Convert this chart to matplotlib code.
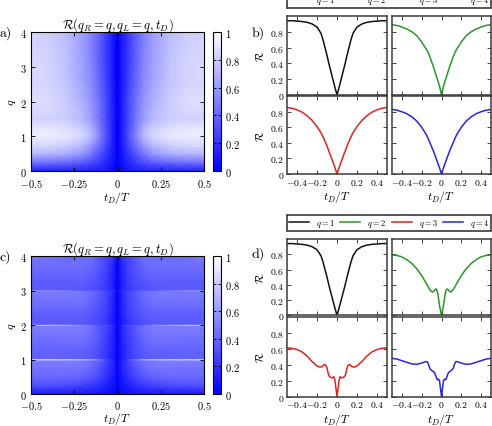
import numpy as np
import matplotlib
matplotlib.use("Agg")
import matplotlib.pyplot as plt
from matplotlib.colors import LinearSegmentedColormap
from matplotlib.lines import Line2D

plt.rcParams['mathtext.fontset'] = 'cm'
plt.rcParams['font.family'] = 'serif'
plt.rcParams['font.serif'] = ['cmr10', 'DejaVu Serif']
plt.rcParams['axes.unicode_minus'] = False

W, H = 492, 427

# ---------------- heatmap data (half in t, mirrored) ----------------
hm_t = [0, 0.01, 0.03, 0.06, 0.1, 0.15, 0.2, 0.3, 0.4, 0.5]

a_q = [0, 0.25, 0.5, 0.75, 1.0, 1.15, 1.5, 1.75, 2.0, 2.5, 3.0, 3.5, 4.0]
a_vals = [
    [0, 0.02, 0.05, 0.08, 0.10, 0.11, 0.12, 0.12, 0.12, 0.12],
    [0, 0.03, 0.08, 0.14, 0.22, 0.30, 0.36, 0.42, 0.45, 0.45],
    [0, 0.04, 0.11, 0.20, 0.32, 0.46, 0.58, 0.68, 0.71, 0.72],
    [0, 0.04, 0.13, 0.25, 0.42, 0.60, 0.72, 0.82, 0.85, 0.85],
    [0, 0.04, 0.14, 0.29, 0.49, 0.72, 0.83, 0.90, 0.92, 0.92],
    [0, 0.04, 0.14, 0.29, 0.48, 0.71, 0.82, 0.89, 0.92, 0.92],
    [0, 0.05, 0.14, 0.27, 0.44, 0.60, 0.71, 0.80, 0.82, 0.82],
    [0, 0.05, 0.14, 0.26, 0.43, 0.60, 0.70, 0.81, 0.84, 0.85],
    [0, 0.05, 0.14, 0.27, 0.42, 0.58, 0.68, 0.80, 0.86, 0.88],
    [0, 0.04, 0.12, 0.24, 0.39, 0.54, 0.64, 0.77, 0.83, 0.84],
    [0, 0.04, 0.12, 0.22, 0.37, 0.52, 0.62, 0.76, 0.83, 0.855],
    [0, 0.04, 0.12, 0.22, 0.36, 0.51, 0.615, 0.75, 0.815, 0.84],
    [0, 0.04, 0.12, 0.22, 0.36, 0.50, 0.61, 0.745, 0.805, 0.83],
]

c_q = [0, 0.25, 0.5, 0.75, 0.97, 1.0, 1.03, 1.25, 1.5, 1.75, 1.97, 2.0, 2.03,
       2.25, 2.5, 2.75, 2.97, 3.0, 3.03, 3.25, 3.5, 3.75, 4.0]
c_vals = [
    [0, 0.02, 0.04, 0.06, 0.08, 0.09, 0.10, 0.10, 0.10, 0.10],
    [0, 0.04, 0.08, 0.12, 0.17, 0.22, 0.26, 0.30, 0.32, 0.32],
    [0, 0.06, 0.12, 0.18, 0.27, 0.34, 0.39, 0.41, 0.41, 0.41],
    [0, 0.07, 0.15, 0.22, 0.32, 0.40, 0.45, 0.46, 0.45, 0.45],
    [0, 0.08, 0.17, 0.25, 0.36, 0.44, 0.48, 0.49, 0.49, 0.49],
    [0, 0.04, 0.14, 0.29, 0.49, 0.74, 0.85, 0.915, 0.935, 0.94],
    [0, 0.06, 0.12, 0.20, 0.28, 0.34, 0.37, 0.38, 0.38, 0.38],
    [0, 0.06, 0.13, 0.20, 0.29, 0.35, 0.38, 0.38, 0.38, 0.38],
    [0, 0.07, 0.15, 0.22, 0.31, 0.39, 0.43, 0.43, 0.42, 0.42],
    [0, 0.07, 0.16, 0.24, 0.33, 0.42, 0.46, 0.47, 0.46, 0.46],
    [0, 0.07, 0.17, 0.26, 0.34, 0.44, 0.49, 0.49, 0.49, 0.49],
    [0, 0.06, 0.20, 0.34, 0.31, 0.41, 0.52, 0.68, 0.765, 0.79],
    [0, 0.06, 0.12, 0.20, 0.27, 0.31, 0.34, 0.35, 0.35, 0.35],
    [0, 0.06, 0.13, 0.22, 0.28, 0.33, 0.36, 0.36, 0.36, 0.36],
    [0, 0.07, 0.15, 0.24, 0.31, 0.37, 0.41, 0.41, 0.41, 0.41],
    [0, 0.07, 0.16, 0.26, 0.33, 0.40, 0.45, 0.46, 0.45, 0.45],
    [0, 0.07, 0.17, 0.26, 0.34, 0.42, 0.47, 0.48, 0.48, 0.48],
    [0, 0.10, 0.25, 0.24, 0.36, 0.375, 0.385, 0.51, 0.59, 0.61],
    [0, 0.06, 0.13, 0.20, 0.27, 0.31, 0.34, 0.35, 0.35, 0.35],
    [0, 0.06, 0.14, 0.22, 0.29, 0.33, 0.36, 0.36, 0.36, 0.36],
    [0, 0.07, 0.15, 0.24, 0.31, 0.37, 0.40, 0.40, 0.40, 0.40],
    [0, 0.07, 0.16, 0.26, 0.33, 0.40, 0.43, 0.43, 0.43, 0.43],
    [0, 0.10, 0.22, 0.27, 0.33, 0.44, 0.42, 0.41, 0.45, 0.48],
]

# ---------------- line-cut data (t >= 0, symmetric) ----------------
b_t = [0, 0.02, 0.04, 0.06, 0.08, 0.1, 0.12, 0.14, 0.16, 0.2, 0.25, 0.3, 0.35, 0.4, 0.45, 0.5]
b_q1 = [0, 0.09, 0.19, 0.29, 0.39, 0.5, 0.6, 0.7, 0.78, 0.86, 0.9, 0.92, 0.93, 0.935, 0.94, 0.94]
b_q2 = [0, 0.11, 0.19, 0.27, 0.35, 0.42, 0.49, 0.55, 0.59, 0.67, 0.75, 0.8, 0.835, 0.86, 0.88, 0.89]
b_q3 = [0, 0.08, 0.15, 0.22, 0.29, 0.36, 0.42, 0.48, 0.53, 0.61, 0.69, 0.75, 0.795, 0.825, 0.845, 0.855]
b_q4 = [0, 0.08, 0.15, 0.22, 0.29, 0.35, 0.41, 0.47, 0.52, 0.6, 0.68, 0.735, 0.775, 0.8, 0.82, 0.83]

d_t2 = [0, 0.01, 0.02, 0.03, 0.04, 0.05, 0.06, 0.07, 0.08, 0.09, 0.1, 0.12, 0.15, 0.2,
        0.25, 0.3, 0.35, 0.4, 0.45, 0.5]
d_q2 = [0, 0.06, 0.13, 0.22, 0.3, 0.34, 0.345, 0.33, 0.315, 0.305, 0.31, 0.34, 0.41, 0.52,
        0.61, 0.68, 0.73, 0.765, 0.785, 0.79]
d_t3 = [0, 0.01, 0.02, 0.03, 0.04, 0.05, 0.06, 0.07, 0.08, 0.09, 0.1, 0.11, 0.12, 0.13,
        0.15, 0.17, 0.2, 0.25, 0.3, 0.35, 0.4, 0.45, 0.5]
d_q3 = [0, 0.1, 0.2, 0.25, 0.24, 0.235, 0.24, 0.25, 0.26, 0.3, 0.36, 0.39, 0.4, 0.4,
        0.375, 0.37, 0.385, 0.44, 0.51, 0.56, 0.59, 0.605, 0.61]
d_t4 = [0, 0.01, 0.02, 0.03, 0.04, 0.05, 0.06, 0.07, 0.08, 0.09, 0.1, 0.11, 0.12, 0.13,
        0.14, 0.15, 0.17, 0.2, 0.25, 0.3, 0.35, 0.4, 0.45, 0.5]
d_q4 = [0, 0.1, 0.2, 0.22, 0.21, 0.23, 0.27, 0.3, 0.31, 0.32, 0.33, 0.34, 0.36, 0.4,
        0.43, 0.44, 0.435, 0.42, 0.405, 0.41, 0.43, 0.45, 0.47, 0.48]

legend_labels = ['$q=1$', '$q=2$', '$q=3$', '$q=4$']
line_colors = ['#111111', '#2a962a', '#e32222', '#2626e0']


def mirror_t(t):
    t = np.asarray(t, float)
    return np.concatenate([-t[::-1][:-1], t])


def mirror_v(v):
    v = np.asarray(v, float)
    if v.ndim == 1:
        return np.concatenate([v[::-1][:-1], v])
    return np.concatenate([v[:, ::-1][:, :-1], v], axis=1)


def px(x0, y0, x1, y1):
    return [x0 / W, 1 - y1 / H, (x1 - x0) / W, (y1 - y0) / H]


cmap = LinearSegmentedColormap.from_list('bw', [(0, 0, 1), (1, 1, 1)])

fig = plt.figure(figsize=(W / 100, H / 100), dpi=100)


def heat(rect, cbrect, qs, vals, label, ypanel, xpad, lpad):
    ax = fig.add_axes(px(*rect))
    T = mirror_t(hm_t)
    V = mirror_v(vals)
    X, Y = np.meshgrid(T, np.asarray(qs, float))
    m = ax.pcolormesh(X, Y, V, cmap=cmap, vmin=0, vmax=1, shading='gouraud', rasterized=True)
    ax.set_xlim(-0.5, 0.5)
    ax.set_ylim(0, 4)
    ax.set_xticks([-0.5, -0.25, 0, 0.25, 0.5])
    ax.set_xticklabels(['$-0.5$', '$-0.25$', '$0$', '$0.25$', '$0.5$'], fontsize=7.5)
    ax.set_yticks([0, 1, 2, 3, 4])
    ax.set_yticklabels(['$0$', '$1$', '$2$', '$3$', '$4$'], fontsize=7.5)
    ax.tick_params(direction='in', length=3, width=0.6, top=True, right=True, pad=3.2)
    ax.tick_params(axis='x', pad=xpad)
    ax.set_xlabel('$t_D/T$', fontsize=8.5, labelpad=lpad)
    ax.set_ylabel('$q$', fontsize=8.5, labelpad=1.5)
    ax.set_title(r'$\mathcal{R}(q_R=q,q_L=q,t_D)$', fontsize=9.2, pad=3)
    for s in ax.spines.values():
        s.set_linewidth(0.8)
    fig.text(0.0 / W, 1 - ypanel / H, label, fontsize=10, va='center', ha='left')
    cax = fig.add_axes(px(*cbrect))
    cb = fig.colorbar(m, cax=cax)
    cb.set_ticks([0, 0.2, 0.4, 0.6, 0.8, 1])
    cb.set_ticklabels(['$0$', '$0.2$', '$0.4$', '$0.6$', '$0.8$', '$1$'], fontsize=7.5)
    cax.tick_params(direction='in', length=2.5, width=0.6, pad=3, left=True)
    cb.outline.set_linewidth(0.8)


heat((31, 33, 204, 172), (213, 33, 221, 172), a_q, a_vals, 'a)', 33, 4, 0)
heat((31, 257, 204, 395), (213, 257, 221, 395), c_q, c_vals, 'c)', 257, 3.6, -0.8)


def cuts(top, mid, bot, legtop, legbot, label, ypanel, curves):
    cols = [(287, 387), (392, 491)]
    rows = [(top, mid - 0.7), (mid + 0.7, bot)]
    k = 0
    for r, (y0, y1) in enumerate(rows):
        for c, (x0, x1) in enumerate(cols):
            ax = fig.add_axes(px(x0, y0, x1, y1))
            t, v = curves[k]
            ax.plot(mirror_t(t), mirror_v(v), color=line_colors[k], lw=1.1)
            ax.set_xlim(-0.5, 0.5)
            ax.set_ylim(0, 1.0)
            ax.set_xticks([-0.4, -0.2, 0, 0.2, 0.4])
            ax.set_yticks([0, 0.2, 0.4, 0.6, 0.8])
            if r == 1:
                ax.set_xticklabels(['$-0.4$', '$-0.2$', '$0$', '$0.2$', '$0.4$'], fontsize=7)
                ax.set_xlabel('$t_D/T$', fontsize=8.5, labelpad=1)
            else:
                ax.set_xticklabels([])
            if c == 0:
                ax.set_yticklabels(['$0$', '$0.2$', '$0.4$', '$0.6$', '$0.8$'], fontsize=7)
                ax.set_ylabel(r'$\mathcal{R}$', fontsize=8, labelpad=3)
            else:
                ax.set_yticklabels([])
            ax.tick_params(direction='in', length=3, width=0.7, top=True, right=True,
                           pad=2, color='#444444')
            for s in ax.spines.values():
                s.set_linewidth(1.1)
                s.set_color('#3a3a3a')
            k += 1
    handles = [Line2D([], [], color=col, lw=1.1) for col in line_colors]
    fig.legend(handles, legend_labels, loc='lower left',
               bbox_to_anchor=(287 / W, 1 - legbot / H, (491 - 287) / W, (legbot - legtop) / H),
               mode='expand', ncol=4, fontsize=6, frameon=True, fancybox=False,
               edgecolor='#3a3a3a', borderpad=0.25, handlelength=2.4, handletextpad=0.8,
               borderaxespad=0, framealpha=1)
    fig.text(252 / W, 1 - ypanel / H, label, fontsize=10, va='center', ha='left')


cuts(17, 96.5, 175, -5, 9.0, 'b)', 33,
     [(b_t, b_q1), (b_t, b_q2), (b_t, b_q3), (b_t, b_q4)])
cuts(240, 317, 397.7, 217.7, 231.7, 'd)', 254,
     [(b_t, b_q1), (d_t2, d_q2), (d_t3, d_q3), (d_t4, d_q4)])

for lg in fig.legends:
    lg.get_frame().set_linewidth(1.2)

fig.savefig('out.png', dpi=100)
